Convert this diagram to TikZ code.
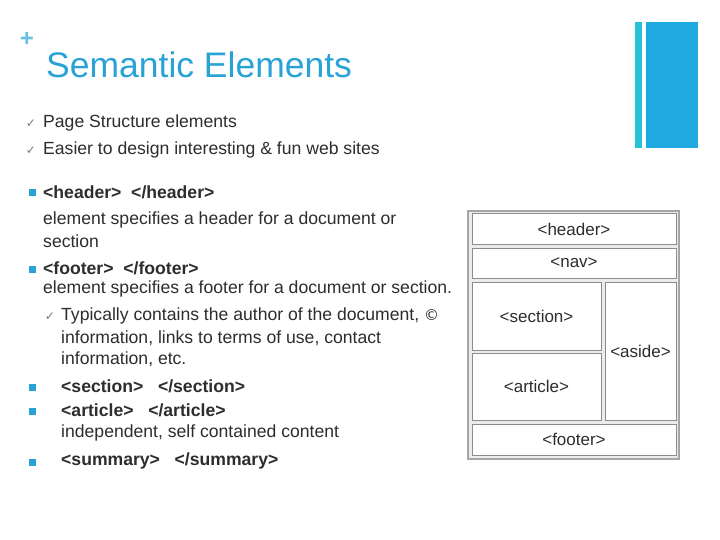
\documentclass[tikz,border=0pt]{standalone}
\usepackage{fontspec}
\setmainfont{Liberation Sans}
\newfontfamily\djv{DejaVu Sans}
\definecolor{tblue}{RGB}{41,163,214}
\definecolor{bblue}{RGB}{30,170,225}
\definecolor{tcyan}{RGB}{40,195,210}
\definecolor{txt}{RGB}{45,45,45}
\definecolor{chk}{RGB}{120,120,120}
\begin{document}
\begin{tikzpicture}[x=1pt,y=-1pt,
  line/.style={anchor=west,inner sep=0pt,font=\fontsize{17.6}{19}\selectfont,text=txt},
  bold/.style={line,font=\fontsize{17.6}{19}\selectfont\bfseries},
  chkm/.style={anchor=center,inner sep=0pt,font=\djv\fontsize{12}{12}\selectfont,text=chk},
  sq/.style={fill=tblue,minimum size=7pt,inner sep=0pt},
  cell/.style={draw=gray!90,line width=1pt,fill=white,inner sep=0pt,font=\fontsize{17}{19}\selectfont,text=txt}]
\useasboundingbox (0,0) rectangle (720,540);
\fill[white] (0,0) rectangle (720,540);
% decoration
\fill[tcyan] (635,22) rectangle (642,148);
\fill[bblue] (646,22) rectangle (698,148);
\node[inner sep=0pt,text=tblue!70,font=\fontsize{24}{24}\selectfont\bfseries] (plus) at (27,39) {+};
\node[anchor=west,inner sep=0pt,text=tblue,font=\fontsize{35.5}{38}\selectfont] (title) at (46,65) {Semantic Elements};
% text
\node[chkm] (c1) at (31,124) {✓};
\node[line] (t1) at (43,123) {Page Structure elements};
\node[chkm] (c2) at (31,151) {✓};
\node[line] (t2) at (43,150) {Easier to design interesting \& fun web sites};
\node[sq] (b1) at (32,193) {};
\node[bold] (t3) at (43,192) {<header>\ \ </header>};
\node[line] (t4) at (43,220) {element specifies a header for a document or};
\node[line] (t5) at (43,241) {section};
\node[sq] (b2) at (32,269) {};
\node[bold] (t6) at (43,268) {<footer>\ \ </footer>};
\node[line] (t7) at (43,289) {element specifies a footer for a document or section.};
\node[chkm] (c3) at (50,317) {✓};
\node[line] (t8) at (61,316) {Typically contains the author of the document, {\djv\fontsize{15}{16}\selectfont ©}};
\node[line] (t9) at (61,338) {information, links to terms of use, contact};
\node[line] (t10) at (61,359) {information, etc.};
\node[sq] (b3) at (32,387) {};
\node[bold] (t11) at (61,386) {<section>\ \ \ </section>};
\node[sq] (b4) at (32,411) {};
\node[bold] (t12) at (61,410) {<article>\ \ \ </article>};
\node[line] (t13) at (61,433) {independent, self contained content};
\node[sq] (b5) at (32,462) {};
\node[bold] (t14) at (61,461) {<summary>\ \ \ </summary>};
% layout diagram
\filldraw[fill=gray!15,draw=gray!70,line width=1.2pt] (468,211) rectangle (679,459);
\node[cell,minimum width=204pt,minimum height=30pt] (hd) at (574,229) {<header>};
\node[cell,minimum width=204pt,minimum height=30pt] (nv) at (574,263) {<nav>};
\node[cell,minimum width=129pt,minimum height=68pt] (sc) at (536.5,316) {<section>};
\node[cell,minimum width=129pt,minimum height=67pt] (ar) at (536.5,386.5) {<article>};
\node[cell,minimum width=71pt,minimum height=138pt] (as) at (640.5,351) {<aside>};
\node[cell,minimum width=204pt,minimum height=31pt] (ft) at (574,439.5) {<footer>};
\end{tikzpicture}
\end{document}
